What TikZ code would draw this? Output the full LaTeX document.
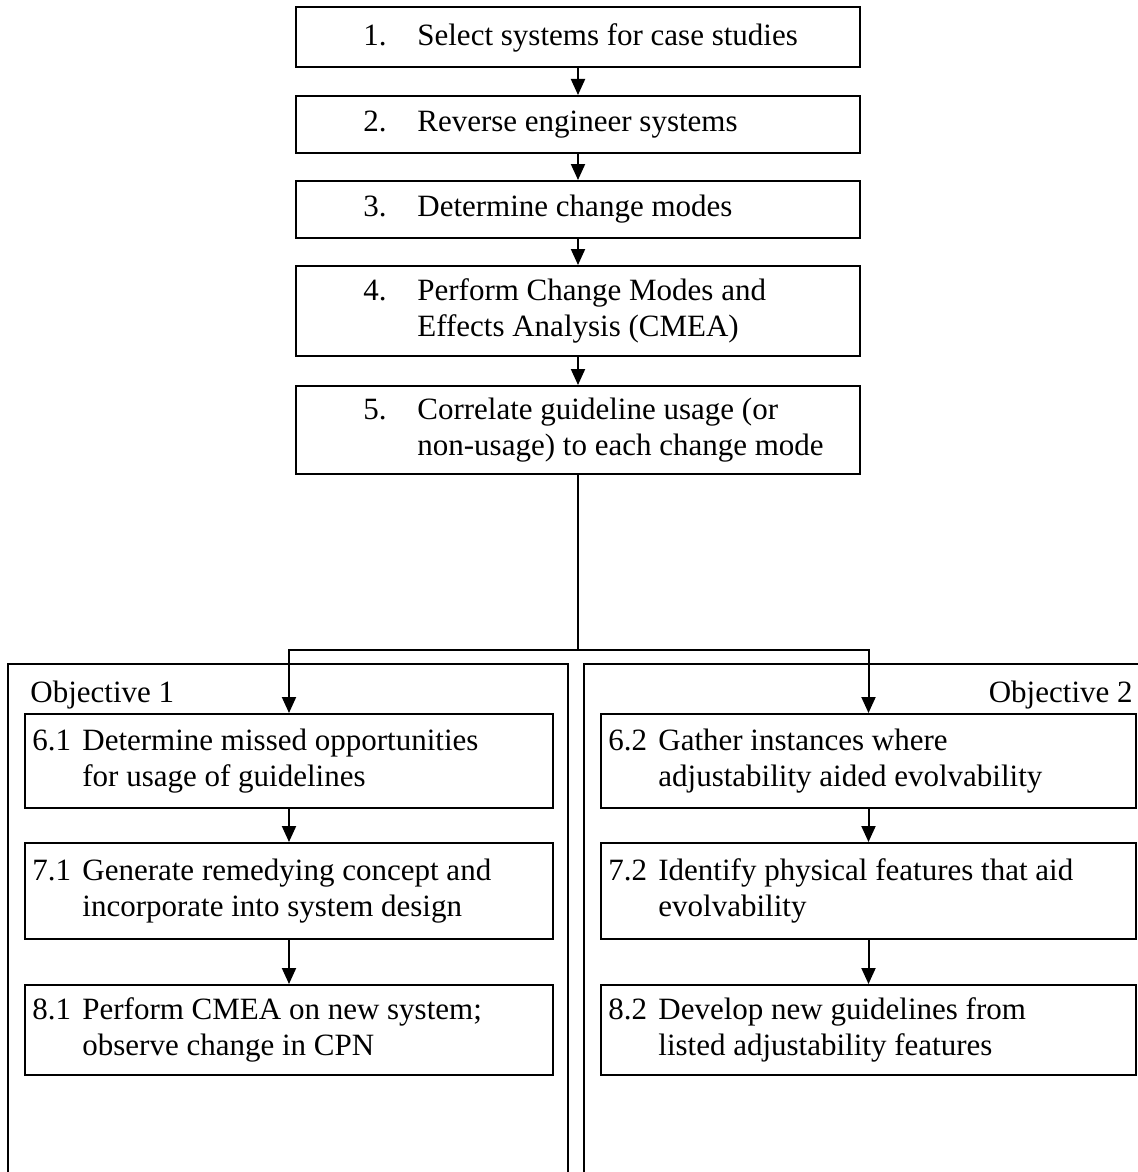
\documentclass[tikz,border=0pt]{standalone}
\usepackage{fontspec}
\setmainfont{Liberation Serif}
\usetikzlibrary{arrows.meta,calc}
\newcommand\itm[3]{\makebox[#1][l]{#2}\parbox[t]{320pt}{#3}}
\begin{document}
\begin{tikzpicture}[x=0.5pt,y=-0.5pt,
  box/.style={draw,line width=1pt,rectangle,inner sep=0pt},
  lab/.style={inner sep=0pt,anchor=west,font=\fontsize{15.5}{18}\selectfont},
  frame/.style={draw,line width=0.8pt},
  arr/.style={line width=1pt,-{Triangle[length=8pt,width=7pt]}},
  conn/.style={line width=1pt}]
\useasboundingbox (0,0) rectangle (1138,1172);
\clip (0,0) rectangle (1138,1172);
% top chain
\node[box,minimum width=282pt,minimum height=30pt] (b1) at (578,37.5) {};
\node[box,minimum width=282pt,minimum height=28.5pt] (b2) at (578,124.5) {};
\node[box,minimum width=282pt,minimum height=28.5pt] (b3) at (578,209.5) {};
\node[box,minimum width=282pt,minimum height=45pt] (b4) at (578,311) {};
\node[box,minimum width=282pt,minimum height=44pt] (b5) at (578,430) {};
\node[lab] (t1) at ([xshift=34pt]b1.west) {\itm{27pt}{1.}{Select systems for case studies}};
\node[lab] (t2) at ([xshift=34pt]b2.west) {\itm{27pt}{2.}{Reverse engineer systems}};
\node[lab] (t3) at ([xshift=34pt]b3.west) {\itm{27pt}{3.}{Determine change modes}};
\node[lab] (t4) at ([xshift=34pt]b4.west) {\itm{27pt}{4.}{Perform Change Modes and\\Effects Analysis (CMEA)}};
\node[lab] (t5) at ([xshift=34pt]b5.west) {\itm{27pt}{5.}{Correlate guideline usage (or\\non-usage) to each change mode}};
\draw[arr] (b1) -- (b2);
\draw[arr] (b2) -- (b3);
\draw[arr] (b3) -- (b4);
\draw[arr] (b4) -- (b5);
% frames
\draw[frame] (8,1200) -- (8,664) -- (568,664) -- (568,1200);
\draw[frame] (584,1200) -- (584,664) -- (1160,664);
\node[lab,anchor=base west] (o1) at (30,702) {Objective 1};
\node[lab,anchor=base east] (o2) at (1133,702) {Objective 2};
% lower boxes
\node[box,minimum width=264pt,minimum height=47pt] (b61) at (289,761) {};
\node[box,minimum width=264pt,minimum height=48pt] (b71) at (289,891) {};
\node[box,minimum width=264pt,minimum height=45pt] (b81) at (289,1030) {};
\node[box,minimum width=267.5pt,minimum height=47pt] (b62) at (868.5,761) {};
\node[box,minimum width=267.5pt,minimum height=48pt] (b72) at (868.5,891) {};
\node[box,minimum width=267.5pt,minimum height=45pt] (b82) at (868.5,1030) {};
\node[lab] (t61) at ([xshift=4pt]b61.west) {\itm{25pt}{6.1}{Determine missed opportunities\\for usage of guidelines}};
\node[lab] (t71) at ([xshift=4pt]b71.west) {\itm{25pt}{7.1}{Generate remedying concept and\\incorporate into system design}};
\node[lab] (t81) at ([xshift=4pt]b81.west) {\itm{25pt}{8.1}{Perform CMEA on new system;\\observe change in CPN}};
\node[lab] (t62) at ([xshift=4pt]b62.west) {\itm{25pt}{6.2}{Gather instances where\\adjustability aided evolvability}};
\node[lab] (t72) at ([xshift=4pt]b72.west) {\itm{25pt}{7.2}{Identify physical features that aid\\evolvability}};
\node[lab] (t82) at ([xshift=4pt]b82.west) {\itm{25pt}{8.2}{Develop new guidelines from\\listed adjustability features}};
% branch
\coordinate (j) at (578,650);
\draw[conn] (b5.south) -- (j);
\draw[arr] (j) -| (b61.north);
\draw[arr] (j) -| (b62.north);
\draw[arr] (b61) -- (b71);
\draw[arr] (b71) -- (b81);
\draw[arr] (b62) -- (b72);
\draw[arr] (b72) -- (b82);
\end{tikzpicture}
\end{document}
